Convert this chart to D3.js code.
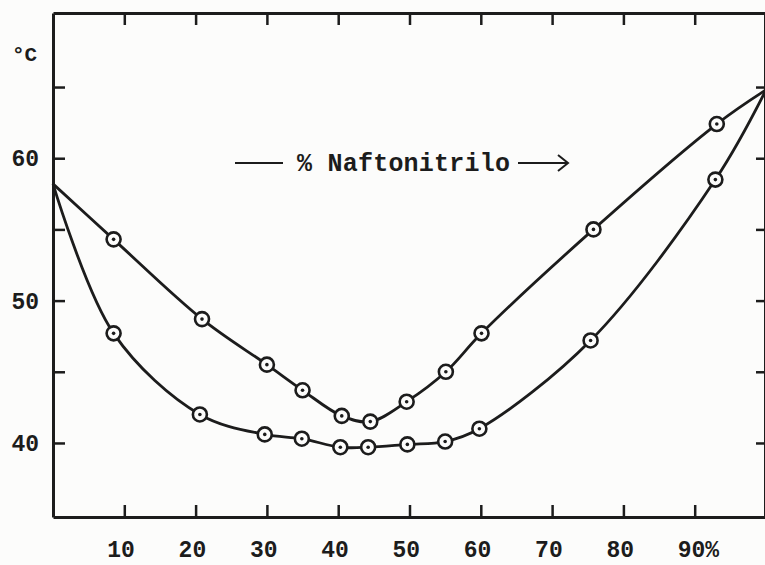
<!DOCTYPE html>
<html>
<head>
<meta charset="utf-8">
<script src="https://cdn.jsdelivr.net/npm/d3@7"></script>
<style>
  body { margin: 0; background: #fcfcfb; }
  text { font-family: "Liberation Mono", "DejaVu Sans Mono", monospace; font-weight: bold; fill: #1c1c1c; }
</style>
</head>
<body>
<svg id="chart" width="765" height="565"></svg>
<script>
// composition (% naftonitrilo) and temperature (°C)
var compUpper = [8.5, 20.9, 30.0, 35.0, 40.5, 44.5, 49.6, 55.1, 60.1, 75.8, 93.1];
var tempUpper = [54.3, 48.7, 45.5, 43.7, 41.9, 41.5, 42.9, 45.0, 47.7, 55.0, 62.4];
var compLower = [8.5, 20.6, 29.7, 34.9, 40.3, 44.2, 49.7, 55.0, 59.8, 75.4, 92.9];
var tempLower = [47.7, 42.0, 40.6, 40.3, 39.7, 39.7, 39.9, 40.1, 41.0, 47.2, 58.5];
// melting points of the pure components (0 % and 100 %)
var pureComp = [0, 100];
var pureTemp = [58.2, 64.8];

var xTicks = [10, 20, 30, 40, 50, 60, 70, 80, 90];
var xTickLabels = ["10", "20", "30", "40", "50", "60", "70", "80", "90%"];
var yTicks = [40, 45, 50, 55, 60, 65];
var yTickLabels = [40, 50, 60];

var ink = "#1c1c1c";

var svg = d3.select("#chart"),
    mLeft = 53, mRight = 766, mTop = 13, mBottom = 517;

var x = d3.scaleLinear().domain([0, 100]).range([mLeft, mRight]);
var y = d3.scaleLinear().domain([34.8, 70.2]).range([mBottom, mTop]);

// frame with inward ticks on all four sides
function frame(axis, tx, ty, size) {
    var g = svg.append("g")
        .attr("transform", "translate(" + tx + "," + ty + ")")
        .call(axis.tickSizeInner(size).tickSizeOuter(0).tickFormat(""));
    g.select(".domain").attr("stroke", ink).attr("stroke-width", 3);
    g.selectAll(".tick line").attr("stroke", ink).attr("stroke-width", 2.5);
}
frame(d3.axisBottom(x).tickValues(xTicks), 0, mBottom, -12);
frame(d3.axisTop(x).tickValues(xTicks), 0, mTop, -12);
frame(d3.axisLeft(y).tickValues(yTicks), mLeft, 0, -12);
frame(d3.axisRight(y).tickValues(yTicks), mRight - 1, 0, -9);

// tick labels (the "%" hangs to the right of the last one)
svg.append("g").selectAll("text")
    .data(xTicks)
    .enter().append("text")
    .attr("x", function (d) { return x(d) - 17; })
    .attr("y", 557)
    .attr("text-anchor", "start")
    .style("font-size", "23px")
    .text(function (d, i) { return xTickLabels[i]; });

svg.append("g").selectAll("text")
    .data(yTickLabels)
    .enter().append("text")
    .attr("x", 39)
    .attr("y", function (d) { return y(d); })
    .attr("dy", "0.35em")
    .attr("text-anchor", "end")
    .style("font-size", "23px")
    .text(function (d) { return d; });

svg.append("text")
    .attr("x", 12).attr("y", 61)
    .style("font-size", "21px")
    .text("°C");

// composition label with arrows
var title = svg.append("g");
title.append("line")
    .attr("x1", 235).attr("x2", 283).attr("y1", 163).attr("y2", 163)
    .attr("stroke", ink).attr("stroke-width", 2);
title.append("text")
    .attr("x", 297).attr("y", 171)
    .attr("textLength", 213)
    .style("font-size", "25px")
    .text("% Naftonitrilo");
title.append("line")
    .attr("x1", 518).attr("x2", 567).attr("y1", 163).attr("y2", 163)
    .attr("stroke", ink).attr("stroke-width", 2);
title.append("path")
    .attr("d", "M558,155 L568,163 L558,171")
    .attr("fill", "none").attr("stroke", ink).attr("stroke-width", 2);

// curves
var line = d3.line()
    .x(function (d) { return x(d[0]); })
    .y(function (d) { return y(d[1]); })
    .curve(d3.curveCatmullRom.alpha(0.5));

function series(comp, temp) {
    return comp.map(function (c, i) { return [c, temp[i]]; });
}
var upper = series(compUpper, tempUpper);
var lower = series(compLower, tempLower);
var start = [pureComp[0], pureTemp[0]], end = [pureComp[1], pureTemp[1]];

[upper, lower].forEach(function (pts) {
    svg.append("path")
        .datum([start].concat(pts, [end]))
        .attr("d", line)
        .attr("fill", "none")
        .attr("stroke", ink)
        .attr("stroke-width", 2.8);
});

// measured points: ring with dot
var allPts = upper.concat(lower);
var marks = svg.append("g").selectAll("g")
    .data(allPts)
    .enter().append("g")
    .attr("transform", function (d) { return "translate(" + x(d[0]) + "," + y(d[1]) + ")"; });
marks.append("circle")
    .attr("r", 7)
    .attr("fill", "#fcfcfb")
    .attr("stroke", ink)
    .attr("stroke-width", 2.6);
marks.append("circle")
    .attr("r", 1.8)
    .attr("fill", ink);
</script>
</body>
</html>
